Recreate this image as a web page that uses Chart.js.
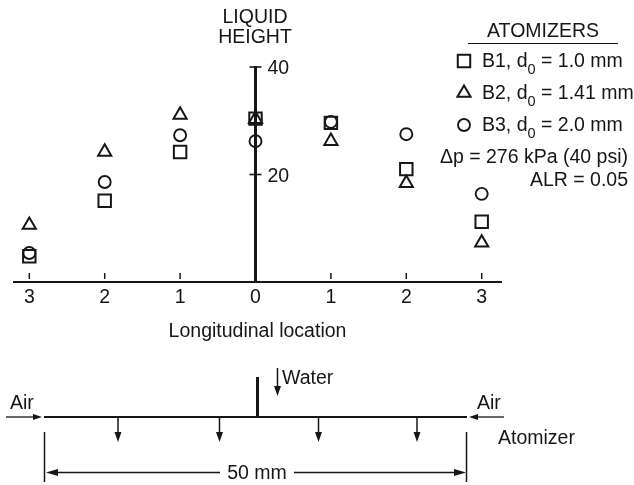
<!DOCTYPE html>
<html>
<head>
<meta charset="utf-8">
<title>Liquid height</title>
<script src="https://cdn.jsdelivr.net/npm/chart.js@4/dist/chart.umd.min.js"></script>
<style>
    html, body { margin: 0; padding: 0; background: #fff; }
    canvas { display: block; }
</style>
</head>
<body>
<canvas id="chart" width="634" height="485"></canvas>
<script>
// Data
const locations = [-3, -2, -1, 0, 1, 2, 3];
const b1Heights = [4.8, 15.1, 24.2, 30.4, 29.6, 21.0, 11.2];
const b2Heights = [10.6, 24.2, 31.1, 30.3, 26.2, 18.4, 7.3];
const b3Heights = [5.4, 18.6, 27.3, 26.2, 29.8, 27.5, 16.4];
const yTickValues = [20, 40];

const INK = '#161616';
const FONT = 'Liberation Sans, Arial, sans-serif';
const TEXT_SIZE = 19.5;

const toPoints = (values) => values.map((y, i) => ({ x: locations[i], y }));

const b1Style = { pointStyle: 'rect', pointRadius: 8.8, pointBorderWidth: 2 };
const b2Style = { pointStyle: 'triangle', pointRadius: 7.6, pointBorderWidth: 2 };
const b3Style = { pointStyle: 'circle', pointRadius: 6, pointBorderWidth: 1.9 };

function text(ctx, str, x, y, size, align = 'left') {
    ctx.font = `${size}px ${FONT}`;
    ctx.textAlign = align;
    ctx.textBaseline = 'middle';
    ctx.fillStyle = INK;
    // +1: 'middle' sits a little high compared with the scan
    ctx.fillText(str, x, y + 1);
}

function line(ctx, x1, y1, x2, y2, width = 1.5) {
    ctx.strokeStyle = INK;
    ctx.lineWidth = width;
    ctx.beginPath();
    ctx.moveTo(x1, y1);
    ctx.lineTo(x2, y2);
    ctx.stroke();
}

// Small filled arrow head, tip at (x, y), dx/dy = direction
function arrowHead(ctx, x, y, dx, dy, len = 9, half = 3) {
    ctx.fillStyle = INK;
    ctx.beginPath();
    ctx.moveTo(x, y);
    ctx.lineTo(x - dx * len - dy * half, y - dy * len - dx * half);
    ctx.lineTo(x - dx * len + dy * half, y - dy * len + dx * half);
    ctx.closePath();
    ctx.fill();
}

function legendRow(ctx, style, label, tail, y) {
    // drawPoint fills and strokes with the current styles
    ctx.fillStyle = 'rgba(0,0,0,0)';
    ctx.strokeStyle = INK;
    ctx.lineWidth = style.pointBorderWidth;
    Chart.helpers.drawPoint(ctx, {
        pointStyle: style.pointStyle,
        radius: style.pointRadius,
        borderWidth: style.pointBorderWidth,
        rotation: 0
    }, 464, y);
    text(ctx, label, 482, y, TEXT_SIZE);
    let x = 482 + ctx.measureText(label).width;
    text(ctx, '0', x, y + 8, 14.5);
    x += ctx.measureText('0').width;
    text(ctx, tail, x, y, TEXT_SIZE);
}

const annotations = {
    id: 'annotations',
    afterDraw(chart) {
        const ctx = chart.ctx;
        const xScale = chart.scales.x;
        const yScale = chart.scales.y;
        const axisY = yScale.bottom;
        const zeroX = xScale.getPixelForValue(0);

        ctx.save();

        // x ticks stand just above the axis, with a gap
        locations.forEach((v) => {
            const px = xScale.getPixelForValue(v);
            if (v !== 0) line(ctx, px, axisY - 9, px, axisY - 3, 1.5);
        });

        // y ticks cross the axis, labels on the right
        yTickValues.forEach((v) => {
            const py = yScale.getPixelForValue(v);
            line(ctx, zeroX - 6, py, zeroX + 6, py, 1.6);
            text(ctx, String(v), zeroX + 12, py + 1, TEXT_SIZE);
        });

        text(ctx, 'LIQUID', 255, 17, TEXT_SIZE, 'center');
        text(ctx, 'HEIGHT', 255, 37, TEXT_SIZE, 'center');

        // Legend
        text(ctx, 'ATOMIZERS', 543, 31, TEXT_SIZE, 'center');
        line(ctx, 468, 43.5, 618, 43.5, 1.2);
        legendRow(ctx, b1Style, 'B1, d', ' = 1.0 mm', 61);
        legendRow(ctx, b2Style, 'B2, d', ' = 1.41 mm', 93);
        legendRow(ctx, b3Style, 'B3, d', ' = 2.0 mm', 125);
        text(ctx, '\u0394p = 276 kPa (40 psi)', 628, 157, TEXT_SIZE, 'right');
        text(ctx, 'ALR = 0.05', 628, 180, TEXT_SIZE, 'right');

        // Atomizer sketch under the chart
        line(ctx, 44, 417, 467, 417, 2);
        line(ctx, 257.5, 377, 257.5, 417, 3);

        line(ctx, 277.5, 368, 277.5, 388, 1.5);
        arrowHead(ctx, 277.5, 396, 0, 1, 10, 3.5);
        text(ctx, 'Water', 282, 378, TEXT_SIZE);

        text(ctx, 'Air', 10, 403, TEXT_SIZE);
        line(ctx, 6, 417, 34, 417, 1.3);
        arrowHead(ctx, 42, 417, 1, 0, 9, 3);
        text(ctx, 'Air', 477, 403, TEXT_SIZE);
        line(ctx, 478, 417, 504, 417, 1.3);
        arrowHead(ctx, 469, 417, -1, 0, 9, 3);

        [118, 219.5, 318.5, 417].forEach((px) => {
            line(ctx, px, 417, px, 434, 1.5);
            arrowHead(ctx, px, 442, 0, 1, 10, 3.5);
        });
        text(ctx, 'Atomizer', 498, 438, TEXT_SIZE);

        // 50 mm dimension
        line(ctx, 44.5, 432, 44.5, 482, 1.5);
        line(ctx, 466.5, 432, 466.5, 482, 1.5);
        line(ctx, 52, 472.5, 220, 472.5, 1.5);
        line(ctx, 294, 472.5, 458, 472.5, 1.5);
        arrowHead(ctx, 46, 472.5, -1, 0, 12, 3.5);
        arrowHead(ctx, 466, 472.5, 1, 0, 12, 3.5);
        text(ctx, '50 mm', 257, 473, TEXT_SIZE, 'center');

        ctx.restore();
    }
};

new Chart(document.getElementById('chart').getContext('2d'), {
    type: 'scatter',
    data: {
        datasets: [
            { label: 'B1', data: toPoints(b1Heights), ...b1Style },
            { label: 'B2', data: toPoints(b2Heights), ...b2Style },
            { label: 'B3', data: toPoints(b3Heights), ...b3Style }
        ].map((d) => ({
            ...d,
            pointBackgroundColor: 'rgba(0,0,0,0)',
            pointBorderColor: INK,
            clip: false
        }))
    },
    options: {
        responsive: false,
        animation: false,
        events: [],
        layout: { padding: { left: 14, right: 133, top: 67, bottom: 142 } },
        plugins: { legend: { display: false }, tooltip: { enabled: false } },
        scales: {
            x: {
                type: 'linear',
                min: -3.203,
                max: 3.256,
                afterFit(scale) { scale.height = 61; },
                grid: { display: false, drawTicks: false },
                border: { display: true, color: INK, width: 2 },
                ticks: {
                    stepSize: 1,
                    includeBounds: false,
                    maxRotation: 0,
                    padding: 4,
                    color: INK,
                    font: { family: FONT, size: TEXT_SIZE },
                    callback: (v) => Math.abs(v)
                },
                title: {
                    display: true,
                    text: 'Longitudinal location',
                    color: INK,
                    font: { family: FONT, size: TEXT_SIZE },
                    padding: { top: 0, bottom: 0 }
                }
            },
            y: {
                type: 'linear',
                position: { x: 0 },
                min: 0,
                max: 40,
                grid: { display: false },
                border: { display: true, color: INK, width: 3 },
                ticks: { display: false, stepSize: 20 }
            }
        }
    },
    plugins: [annotations]
});
</script>
</body>
</html>
